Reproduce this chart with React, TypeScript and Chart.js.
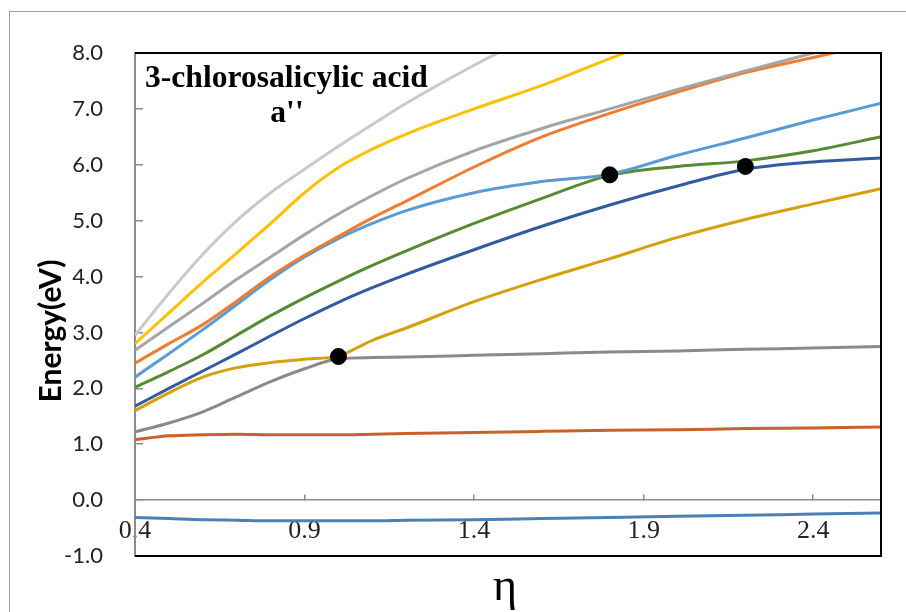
import React, { useEffect, useRef } from "react";
import { Chart, registerables } from "chart.js";

Chart.register(...registerables);

// η values (x) where energies were read
const etaValues = [0.4, 0.5, 0.6, 0.7, 0.8, 0.9, 1.0, 1.1, 1.2, 1.4, 1.6, 1.8, 2.0, 2.2, 2.4, 2.6];

// Energies (eV) of each state
const stateLightGray = [2.95, 3.7, 4.4, 5.0, 5.5, 5.92, 6.33, 6.72, 7.1, 7.78, 8.4, null, null, null, null, null];
const stateGold = [2.8, 3.35, 3.9, 4.42, 4.95, 5.5, 5.95, 6.28, 6.55, 7.0, 7.42, 7.9, 8.35, null, null, null];
const stateGray = [2.68, 3.1, 3.52, 3.95, 4.35, 4.75, 5.12, 5.45, 5.75, 6.25, 6.65, 7.0, 7.35, 7.68, 8.0, 8.3];
const stateOrange = [2.45, 2.8, 3.14, 3.56, 4.0, 4.38, 4.72, 5.05, 5.35, 5.96, 6.5, 6.92, 7.3, 7.65, 7.92, 8.2];
const stateLightBlue = [2.2, 2.62, 3.05, 3.5, 3.95, 4.35, 4.68, 4.95, 5.18, 5.5, 5.7, 5.83, 6.17, 6.48, 6.8, 7.1];
const stateGreen = [2.02, 2.3, 2.6, 2.95, 3.3, 3.62, 3.92, 4.2, 4.46, 4.95, 5.4, 5.81, 5.97, 6.07, 6.25, 6.5];
const stateDarkBlue = [1.68, 2.0, 2.31, 2.62, 2.94, 3.25, 3.54, 3.8, 4.04, 4.48, 4.9, 5.28, 5.62, 5.92, 6.05, 6.12];
const stateDarkGold = [1.6, 1.92, 2.2, 2.37, 2.46, 2.52, 2.58, 2.86, 3.08, 3.55, 3.95, 4.32, 4.7, 5.02, 5.3, 5.57];
const stateDarkGray = [1.22, 1.38, 1.58, 1.85, 2.12, 2.35, 2.53, 2.55, 2.56, 2.59, 2.62, 2.65, 2.67, 2.7, 2.72, 2.75];
const stateBrown = [1.08, 1.15, 1.17, 1.18, 1.17, 1.17, 1.17, 1.18, 1.19, 1.21, 1.23, 1.25, 1.26, 1.28, 1.29, 1.31];
const stateSteel = [-0.31, -0.33, -0.35, -0.36, -0.37, -0.37, -0.37, -0.37, -0.36, -0.35, -0.33, -0.31, -0.29, -0.27, -0.25, -0.23];

// Crossing markers
const dotEta = [1.0, 1.8, 2.2];
const dotEnergy = [2.57, 5.82, 5.97];

// Axis ticks and texts
const xTickValues = [0.4, 0.9, 1.4, 1.9, 2.4];
const titleLine1 = "3-chlorosalicylic acid";
const titleLine2 = "a''";
const xAxisTitle = "η";
const yAxisTitle = "Energy(eV)";

const seriesList: [(number | null)[], string][] = [
  [stateLightGray, "#c9c9c9"],
  [stateGold, "#ffc000"],
  [stateGray, "#a5a5a5"],
  [stateOrange, "#ed7d31"],
  [stateLightBlue, "#5b9bd5"],
  [stateGreen, "#578a35"],
  [stateDarkBlue, "#335a9f"],
  [stateDarkGold, "#d4a10a"],
  [stateDarkGray, "#8a8a8a"],
  [stateBrown, "#c8622a"],
  [stateSteel, "#4b7fb5"],
];

const decorPlugin = {
  id: "decor",
  afterDraw(chart: any) {
    const { ctx, chartArea: a } = chart;
    ctx.save();
    ctx.strokeStyle = "#000";
    ctx.lineWidth = 2;
    ctx.beginPath();
    ctx.moveTo(a.left, a.top);
    ctx.lineTo(a.right, a.top);
    ctx.lineTo(a.right, a.bottom);
    ctx.lineTo(a.left, a.bottom);
    ctx.stroke();

    ctx.fillStyle = "#000";
    ctx.font = 'bold 31.6px "Liberation Serif"';
    ctx.textAlign = "left";
    ctx.textBaseline = "alphabetic";
    ctx.fillText(titleLine1, a.left + 10, a.top + 34);
    ctx.textAlign = "center";
    ctx.fillText(titleLine2, a.left + 152, a.top + 69);

    ctx.font = '46px "Liberation Serif"';
    ctx.fillText(xAxisTitle, (a.left + a.right) / 2 - 3, a.bottom + 44);

    ctx.translate(41, 319);
    ctx.rotate(-Math.PI / 2);
    ctx.font = "bold 30px Lato";
    ctx.textBaseline = "middle";
    ctx.fillText(yAxisTitle, 0, 0);
    ctx.restore();
  },
};

export default function App() {
  const canvasRef = useRef<HTMLCanvasElement | null>(null);

  useEffect(() => {
    if (!canvasRef.current) return;
    const datasets: any[] = [
      {
        label: "crossings",
        data: dotEta.map((x, i) => ({ x, y: dotEnergy[i] })),
        showLine: false,
        pointRadius: 8,
        pointHoverRadius: 8,
        pointBackgroundColor: "#000",
        pointBorderColor: "#000",
        borderColor: "#000",
        backgroundColor: "#000",
      },
      ...seriesList.map(([vals, color], k) => ({
        label: "state" + k,
        data: etaValues.map((x, i) => ({ x, y: vals[i] })),
        borderColor: color,
        backgroundColor: color,
        borderWidth: 3,
        pointRadius: 0,
        fill: false,
        cubicInterpolationMode: "monotone",
        spanGaps: false,
      })),
    ];

    const chart = new Chart(canvasRef.current, {
      type: "line",
      data: { datasets },
      plugins: [decorPlugin],
      options: {
        animation: false,
        responsive: false,
        events: [],
        layout: { padding: { left: 0, top: 41, right: 25, bottom: 56 } },
        plugins: {
          legend: { display: false },
          tooltip: { enabled: false },
          title: { display: false },
        },
        scales: {
          x: {
            type: "linear",
            min: 0.4,
            max: 2.6,
            position: { y: 0 } as any,
            afterBuildTicks: (axis: any) => {
              axis.ticks = xTickValues.map((v) => ({ value: v }));
            },
            afterFit: (scale: any) => {
              scale.paddingLeft = 0;
              scale.paddingRight = 0;
            },
            ticks: {
              callback: (v: any) => Number(v).toFixed(1),
              font: { family: '"Liberation Serif"', size: 26 },
              color: "#222",
              padding: 21,
              maxRotation: 0,
              autoSkip: false,
            },
            grid: {
              display: true,
              drawOnChartArea: false,
              drawTicks: true,
              tickLength: -6,
              color: "#8c8c8c",
              lineWidth: 1.5,
            },
            border: { display: true, color: "#8c8c8c", width: 1.5 },
          },
          y: {
            type: "linear",
            min: -1,
            max: 8,
            afterFit: (scale: any) => {
              scale.width = 125;
              scale.paddingTop = 0;
              scale.paddingBottom = 0;
            },
            ticks: {
              stepSize: 1,
              callback: (v: any) => Number(v).toFixed(1),
              font: { family: "Lato", size: 22 },
              color: "#222",
              padding: 40,
            },
            grid: {
              display: true,
              drawOnChartArea: false,
              drawTicks: true,
              tickLength: -8,
              color: "#8c8c8c",
              lineWidth: 1.5,
            },
            border: { display: true, color: "#8c8c8c", width: 2 },
          },
        },
      },
    });
    return () => chart.destroy();
  }, []);

  return (
    <div
      style={{
        position: "fixed",
        left: 9,
        top: 11,
        width: 897,
        height: 601,
        boxSizing: "border-box",
        borderLeft: "1px solid #a0a0a0",
        borderTop: "1px solid #a0a0a0",
        background: "#fff",
      }}
    >
      <canvas ref={canvasRef} width={896} height={600} style={{ display: "block", width: 896, height: 600 }} />
    </div>
  );
}
